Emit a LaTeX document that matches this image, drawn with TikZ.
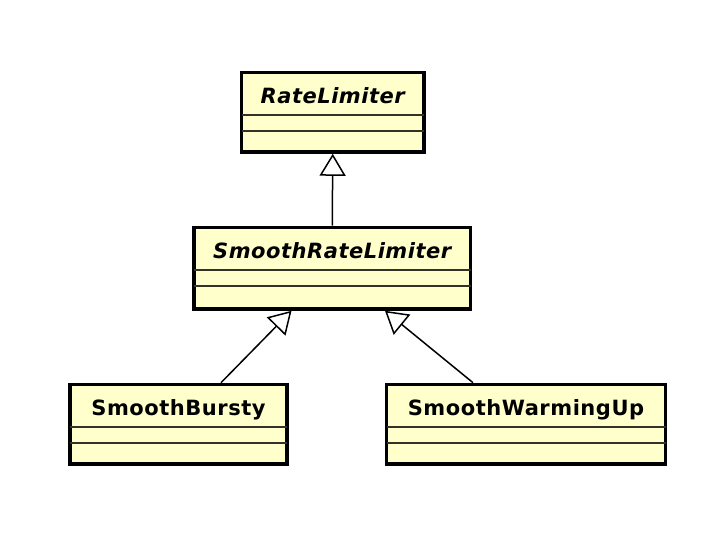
\documentclass[tikz,border=0pt]{standalone}
\usepackage{fontspec}
\usetikzlibrary{arrows.meta,calc}
\newfontfamily\umlfont{DejaVu Sans}[LetterSpace=2.5]
\definecolor{classfill}{RGB}{255,255,204}
\definecolor{divcol}{RGB}{50,50,40}
\tikzset{
  classbox/.style={draw=black, line width=3.6pt, fill=classfill, rectangle, inner sep=0pt},
  classname/.style={inner sep=0pt, anchor=base, font=\umlfont\fontsize{21pt}{25pt}\selectfont\bfseries},
  abstractname/.style={classname, font=\umlfont\fontsize{21pt}{25pt}\selectfont\bfseries\itshape},
  divider/.style={draw=divcol, line width=1.8pt},
  inherit/.style={draw=black, line width=1.5pt, -{Triangle[width=26pt,length=22pt,fill=white,line width=1.5pt]}}
}
\begin{document}
\begin{tikzpicture}[x=1pt,y=1pt]
\useasboundingbox (0,0) rectangle (716,-548);
% boxes
\node[classbox, minimum width=182.5pt, minimum height=79.5pt] (rl) at (332.75,-112.25) {};
\node[classbox, minimum width=276.5pt, minimum height=81.5pt] (srl) at (332.25,-268.25) {};
\node[classbox, minimum width=217pt, minimum height=79.5pt] (sb) at (178.5,-424.25) {};
\node[classbox, minimum width=279pt, minimum height=79.5pt] (swu) at (526,-424.25) {};
% dividers
\foreach \b in {rl,srl,sb,swu}{
  \draw[divider] ($(\b.north west)+(1.8,-44.5)$) -- ($(\b.north east)+(-1.8,-44.5)$);
  \draw[divider] ($(\b.north west)+(1.8,-60)$) -- ($(\b.north east)+(-1.8,-60)$);
}
% names
\node[abstractname] (rlname) at ($(rl.north)+(0,-33)$) {RateLimiter};
\node[abstractname] (srlname) at ($(srl.north)+(0,-33.3)$) {SmoothRateLimiter};
\node[classname] (sbname) at ($(sb.north)+(0,-33.3)$) {SmoothBursty};
\node[classname] (swuname) at ($(swu.north)+(0,-33.3)$) {SmoothWarmingUp};
% generalizations
\draw[inherit] (srl.north) -- (rl.south);
\draw[inherit] ($(sb.north)+(42.5,0)$) -- ($(srl.south)+(-40.75,0)$);
\draw[inherit] ($(swu.north)+(-53,0)$) -- ($(srl.south)+(52.75,0)$);
\end{tikzpicture}
\end{document}
